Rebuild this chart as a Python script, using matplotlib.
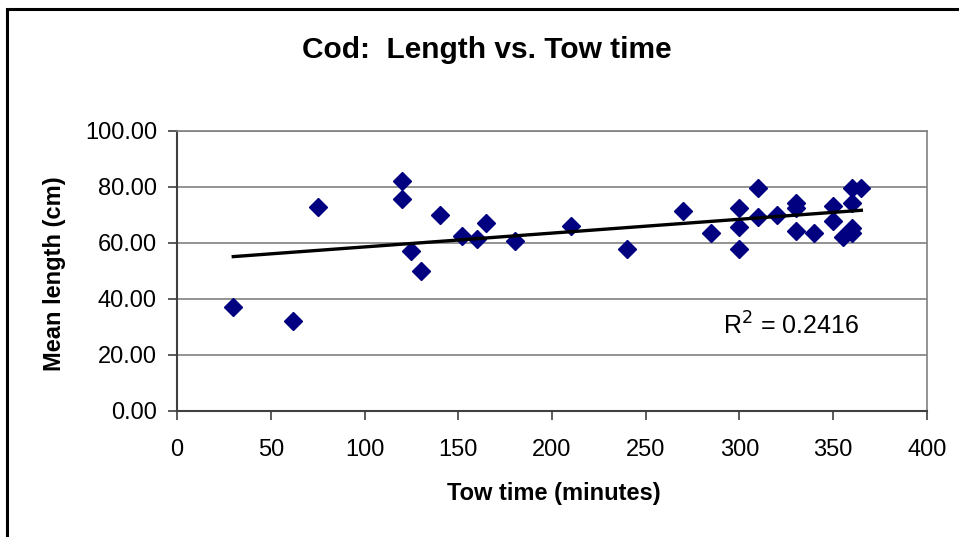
import numpy as np
import matplotlib
matplotlib.use("Agg")
import matplotlib.pyplot as plt
from matplotlib.patches import Rectangle

plt.rcParams['font.family'] = ['Liberation Sans', 'DejaVu Sans']

# tow time (minutes) and mean cod length (cm)
tow_time = [30, 62, 75, 120, 120, 125, 130, 140, 152, 160, 165, 180,
            210, 240, 270, 285, 300, 300, 300, 310, 310, 320, 330, 330,
            330, 340, 350, 350, 355, 360, 365, 360, 360, 360]
mean_len = [37.1, 32.1, 72.8, 82.1, 75.7, 57.0, 50.0, 69.9, 62.5, 61.3, 67.1, 60.6,
            66.0, 57.9, 71.4, 63.6, 72.3, 65.7, 57.9, 79.4, 69.1, 70.0, 74.1, 72.4,
            64.2, 63.5, 73.1, 67.9, 61.9, 79.4, 79.4, 74.3, 65.1, 63.4]
r2_label = "R$^2$ = 0.2416"

x = np.array(tow_time, dtype=float)
y = np.array(mean_len, dtype=float)
slope, icpt = np.polyfit(x, y, 1)

fig = plt.figure(figsize=(9.59, 5.37), dpi=100)
ax = fig.add_axes([0.1846, 0.2352, 0.782, 0.5214])

# outer chart border (runs off the right/bottom edge like the original)
fig.patches.append(Rectangle((7 / 959, -0.1), 1.2, 1 - 9 / 537 + 0.1,
                             transform=fig.transFigure, fill=False,
                             edgecolor='black', linewidth=2.2))

ax.plot(x, y, linestyle='none', marker='D', markersize=9,
        color='#000080', markeredgecolor='#000080')
xs = np.array([x.min(), x.max()])
ax.plot(xs, slope * xs + icpt, color='black', linewidth=2.4)

ax.set_xlim(0, 400)
ax.set_ylim(0, 100)
ax.set_xticks(range(0, 401, 50))
ax.set_yticks(range(0, 101, 20))
ax.set_yticklabels([f"{v:.2f}" for v in range(0, 101, 20)])
ax.yaxis.grid(True, color='#808080', linewidth=1.2)
ax.set_axisbelow(True)

for side in ('top', 'right'):
    ax.spines[side].set_color('#808080')
    ax.spines[side].set_linewidth(1.2)
for side in ('left', 'bottom'):
    ax.spines[side].set_color('#404040')
    ax.spines[side].set_linewidth(1.5)

ax.tick_params(axis='both', direction='out', length=6.5, width=1.2,
               color='#404040', labelsize=17)
ax.tick_params(axis='y', pad=8)
ax.tick_params(axis='x', pad=14)

fig.text(0.577, 1 - 500 / 537, "Tow time (minutes)", ha='center', va='baseline',
         fontsize=17, fontweight='bold')
fig.text(0.057, 1 - 274 / 537, "Mean length (cm)", ha='center', va='center',
         rotation=90, fontsize=17, fontweight='bold')
fig.text(0.508, 1 - 57.5 / 537, "Cod:  Length vs. Tow time", ha='center',
         va='baseline', fontsize=21.5, fontweight='bold')

ax.text(291, 27, r2_label, fontsize=18, ha='left', va='baseline')

fig.savefig("out.png", dpi=100)
